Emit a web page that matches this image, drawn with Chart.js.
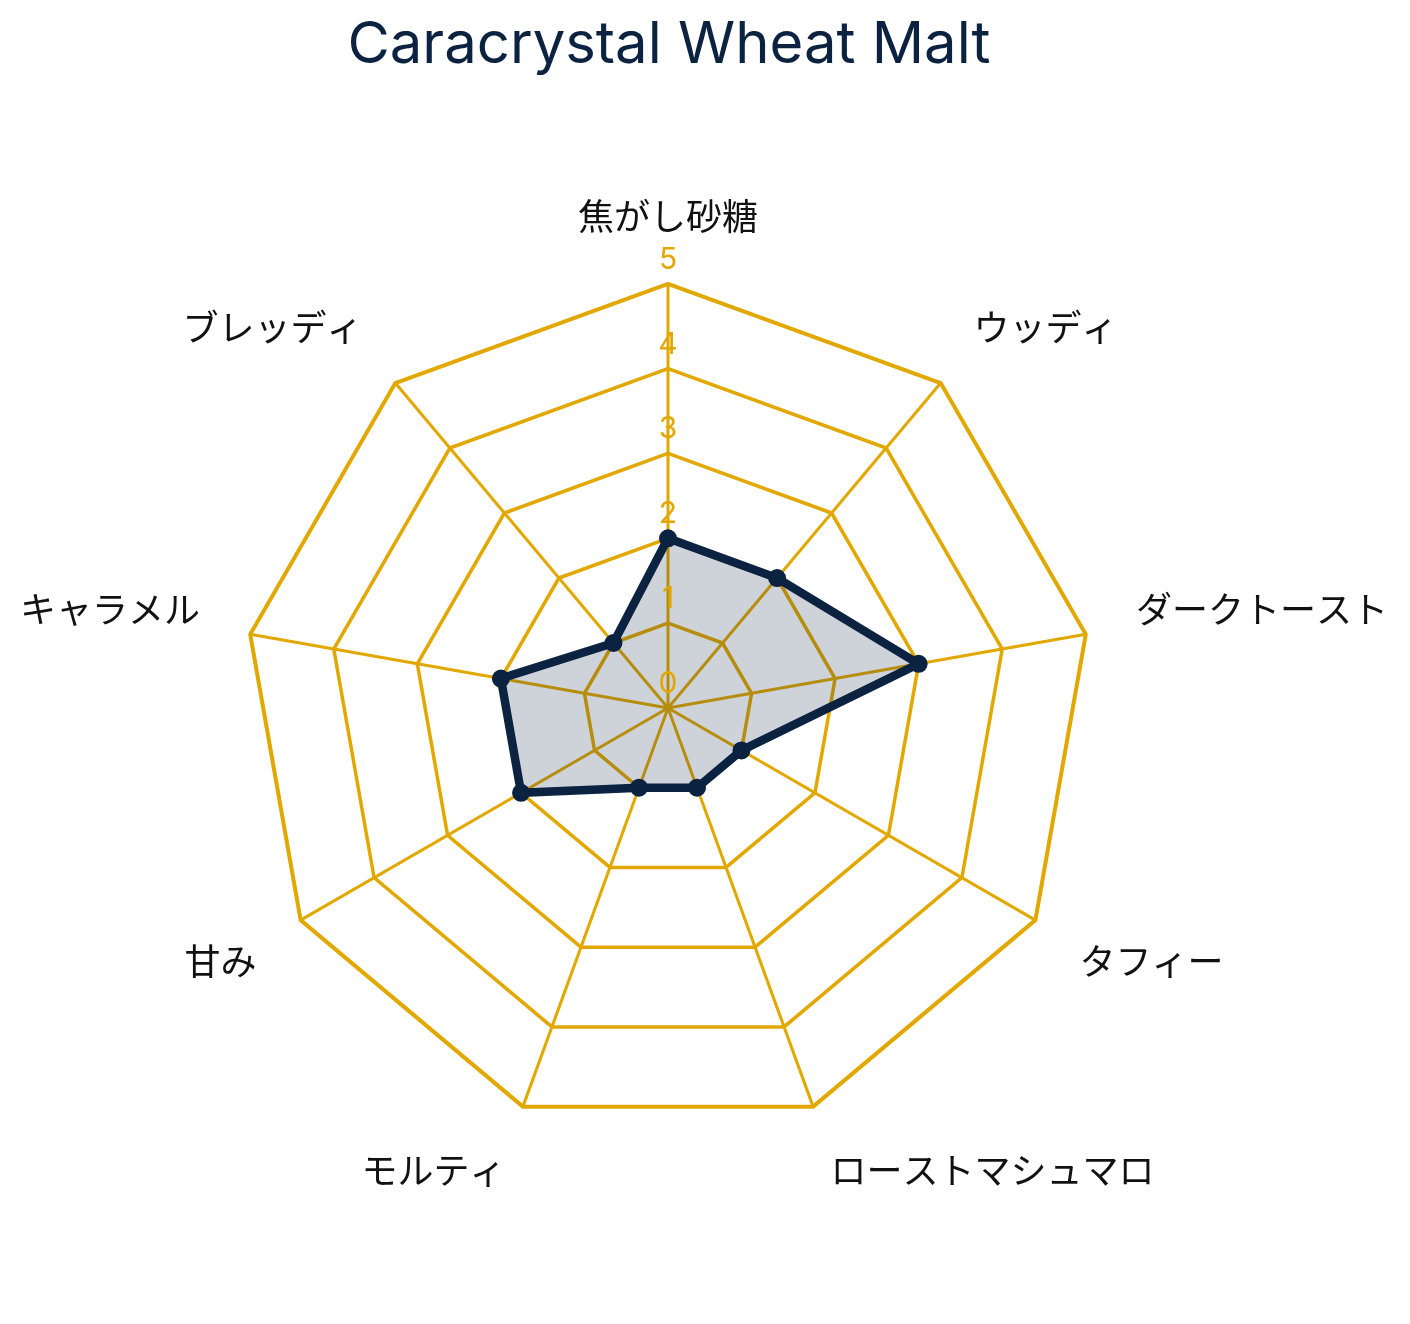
<!DOCTYPE html>
<html>
<head>
<meta charset="utf-8">
<title>Caracrystal Wheat Malt</title>
<script src="https://cdn.jsdelivr.net/npm/chart.js@4.4.1/dist/chart.umd.min.js"></script>
<style>
  html, body { margin: 0; padding: 0; background: #fff; overflow: hidden; width: 1410px; height: 1324px; }
  /* a bit wider than the page so the radar gets the same radius as the reference */
  #wrap { width: 1440px; height: 1324px; position: relative; margin-left: -15px; }
</style>
</head>
<body>
<div id="wrap"><canvas id="radar"></canvas></div>
<script>
// Data
const chartTitle = 'Caracrystal Wheat Malt';
const flavours = ['焦がし砂糖', 'ウッディ', 'ダークトースト', 'タフィー', 'ローストマシュマロ', 'モルティ', '甘み', 'キャラメル', 'ブレッディ'];
const scores = [2, 2, 3, 1, 1, 1, 2, 2, 1];
const tickValues = [0, 1, 2, 3, 4, 5];

const gold = '#E2A800';
const navy = '#0C2241';

// title + tick labels are drawn by hand so they sit on the chart centre
const extras = {
  id: 'extras',
  afterDatasetsDraw(chart) {
    const r = chart.scales.r;
    const ctx = chart.ctx;
    ctx.save();
    ctx.fillStyle = gold;
    ctx.font = '30px Inter, "Open Sans", sans-serif';
    ctx.textAlign = 'center';
    ctx.textBaseline = 'middle';
    tickValues.forEach(v => {
      const d = r.getDistanceFromCenterForValue(v);
      ctx.fillText(String(v), r.xCenter, r.yCenter - d - 24);
    });
    ctx.restore();
  },
  afterDraw(chart) {
    const r = chart.scales.r;
    const ctx = chart.ctx;
    ctx.save();
    ctx.fillStyle = navy;
    ctx.font = '58px Inter, "Open Sans", sans-serif';
    ctx.textAlign = 'center';
    ctx.textBaseline = 'alphabetic';
    ctx.fillText(chartTitle, r.xCenter + 1, 63);
    ctx.restore();
  }
};

new Chart(document.getElementById('radar').getContext('2d'), {
  type: 'radar',
  data: {
    labels: flavours,
    datasets: [{
      data: scores,
      borderColor: navy,
      backgroundColor: 'rgba(12,34,65,0.2)',
      borderWidth: 8.5,
      pointRadius: 8,
      pointBorderWidth: 2,
      pointBackgroundColor: navy,
      pointBorderColor: navy,
      fill: true
    }]
  },
  options: {
    responsive: true,
    maintainAspectRatio: false,
    animation: false,
    layout: { padding: { left: 0, right: 0, top: 142, bottom: 82 } },
    plugins: {
      legend: { display: false },
      tooltip: { enabled: false }
    },
    scales: {
      r: {
        min: 0,
        max: 5,
        ticks: { display: false, stepSize: 1 },
        grid: {
          color: gold,
          lineWidth: ctx => (ctx.index === 5 ? 4 : 3.5)
        },
        angleLines: { color: gold, lineWidth: 3 },
        pointLabels: {
          color: '#111',
          padding: 51,
          font: { family: '"Noto Sans CJK JP"', size: 36, lineHeight: 0.9 }
        }
      }
    }
  },
  plugins: [extras]
});
</script>
</body>
</html>
